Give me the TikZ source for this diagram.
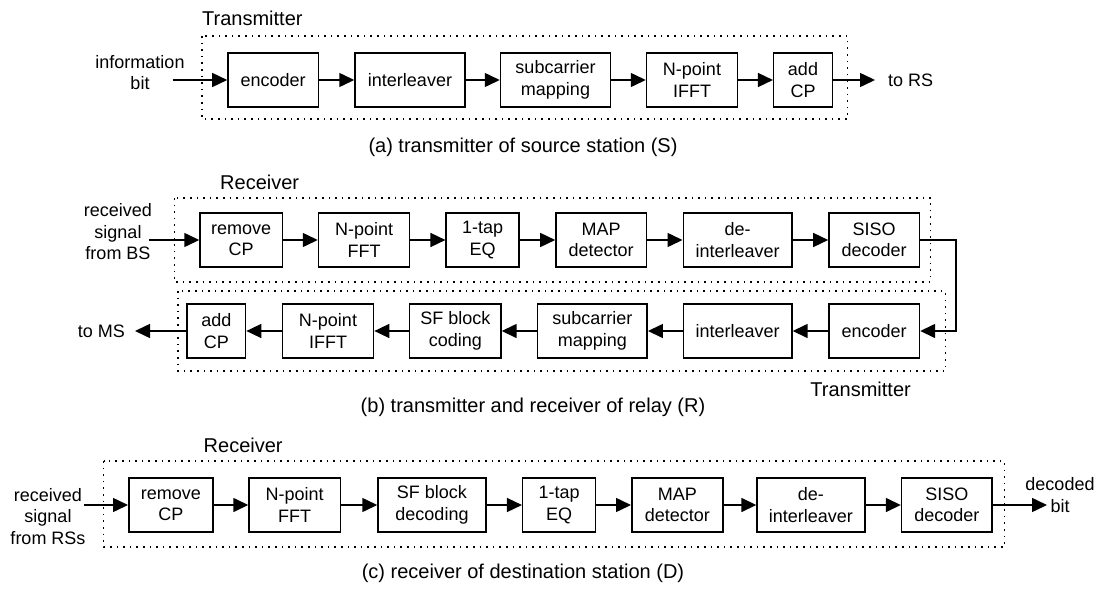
\documentclass[tikz,border=0pt]{standalone}
\usepackage{fontspec}
\setmainfont{Liberation Sans}
\usetikzlibrary{arrows.meta}
\begin{document}
\begin{tikzpicture}[x=1pt,y=-1pt,
  box/.style={draw, line width=1.5pt, minimum height=54pt, inner sep=0pt, align=center,
    font=\fontsize{18}{21.5}\selectfont},
  lbl/.style={inner sep=0pt, align=center, font=\fontsize{18}{21.5}\selectfont},
  ttl/.style={inner sep=0pt, font=\fontsize{20}{24}\selectfont},
  frame/.style={line width=1.6pt, dash pattern=on 1.6pt off 5pt},
  arr/.style={line width=1.5pt, -{Triangle[length=15pt,width=14pt]}}]
\useasboundingbox (0,0) rectangle (1101,589);

% ---------------- (a) ----------------
\node[ttl, anchor=west] (ta) at (202,18) {Transmitter};
\draw[frame] (202,36) rectangle (847.5,119);
\node[box, minimum width=90.5pt] (a1) at (273.2,80) {encoder};
\node[box, minimum width=110pt] (a2) at (410,80) {interleaver};
\node[box, minimum width=110pt] (a3) at (555.5,80) {subcarrier\\mapping};
\node[box, minimum width=91pt] (a4) at (692,80) {N-point\\IFFT};
\node[box, minimum width=58.6pt] (a5) at (803,80) {add\\CP};
\node[lbl] (ain) at (140,72.5) {information\\bit};
\coordinate (ainc) at (172.6,80);
\node[lbl, anchor=west, inner xsep=13pt] (aout) at (875,80) {to RS};
\draw[arr] (ainc) -- (a1);
\draw[arr] (a1) -- (a2);
\draw[arr] (a2) -- (a3);
\draw[arr] (a3) -- (a4);
\draw[arr] (a4) -- (a5);
\draw[arr] (a5) -- (aout);
\node[ttl] (capa) at (523,147) {(a) transmitter of source station (S)};

% ---------------- (b) ----------------
\node[ttl, anchor=west] (rb) at (220,182) {Receiver};
\draw[frame] (174.4,198) rectangle (930.6,282);
\draw[frame] (177.9,291) rectangle (945.4,371);
\node[ttl, anchor=east] (tb) at (911,389) {Transmitter};
\node[box, minimum width=82.4pt] (b1) at (241.2,240) {remove\\CP};
\node[box, minimum width=91.2pt] (b2) at (364.1,240) {N-point\\FFT};
\node[box, minimum width=73pt] (b3) at (482.7,240) {1-tap\\EQ};
\node[box, minimum width=90.5pt] (b4) at (601.2,240) {MAP\\detector};
\node[box, minimum width=108.7pt] (b5) at (737.6,240) {de-\\interleaver};
\node[box, minimum width=90.5pt] (b6) at (874.2,240) {SISO\\decoder};
\node[box, minimum width=90.5pt] (b7) at (874.2,331) {encoder};
\node[box, minimum width=108.7pt] (b8) at (737.6,331) {interleaver};
\node[box, minimum width=109.8pt] (b9) at (592.3,331) {subcarrier\\mapping};
\node[box, minimum width=91.3pt] (b10) at (455.3,331) {SF block\\coding};
\node[box, minimum width=91.2pt] (b11) at (328,331) {N-point\\IFFT};
\node[box, minimum width=58.6pt] (b12) at (216.3,331) {add\\CP};
\node[lbl] (bin) at (118,232) {received\\signal\\from BS};
\coordinate (binc) at (149,240);
\node[lbl, anchor=east, inner xsep=10pt] (bout) at (135,331) {to MS};
\coordinate (loop) at (956,240);
\draw[arr] (binc) -- (b1);
\draw[arr] (b1) -- (b2);
\draw[arr] (b2) -- (b3);
\draw[arr] (b3) -- (b4);
\draw[arr] (b4) -- (b5);
\draw[arr] (b5) -- (b6);
\draw[arr] (b6.east) -- (loop) |- (b7.east);
\draw[arr] (b7) -- (b8);
\draw[arr] (b8) -- (b9);
\draw[arr] (b9) -- (b10);
\draw[arr] (b10) -- (b11);
\draw[arr] (b11) -- (b12);
\draw[arr] (b12) -- (bout);
\node[ttl] (capb) at (533,407) {(b) transmitter and receiver of relay (R)};

% ---------------- (c) ----------------
\node[ttl, anchor=west] (rc) at (203.5,445) {Receiver};
\draw[frame] (103.5,461) rectangle (1004.3,547);
\node[box, minimum width=84.3pt] (c1) at (170.9,505) {remove\\CP};
\node[box, minimum width=91.3pt] (c2) at (294.7,505) {N-point\\FFT};
\node[box, minimum width=108pt] (c3) at (432,505) {SF block\\decoding};
\node[box, minimum width=73pt] (c4) at (559.2,505) {1-tap\\EQ};
\node[box, minimum width=91.3pt] (c5) at (677.4,505) {MAP\\detector};
\node[box, minimum width=107.7pt] (c6) at (810.9,505) {de-\\interleaver};
\node[box, minimum width=90.5pt] (c7) at (946.8,505) {SISO\\decoder};
\node[lbl] (cin) at (48,516.5) {received\\signal\\from RSs};
\coordinate (cinc) at (83.5,505);
\node[lbl] (cout) at (1060,495) {decoded\\bit};
\coordinate (coutc) at (1047,505);
\draw[arr] (cinc) -- (c1);
\draw[arr] (c1) -- (c2);
\draw[arr] (c2) -- (c3);
\draw[arr] (c3) -- (c4);
\draw[arr] (c4) -- (c5);
\draw[arr] (c5) -- (c6);
\draw[arr] (c6) -- (c7);
\draw[arr] (c7) -- (coutc);
\node[ttl] (capc) at (523,573) {(c) receiver of destination station (D)};
\end{tikzpicture}
\end{document}
